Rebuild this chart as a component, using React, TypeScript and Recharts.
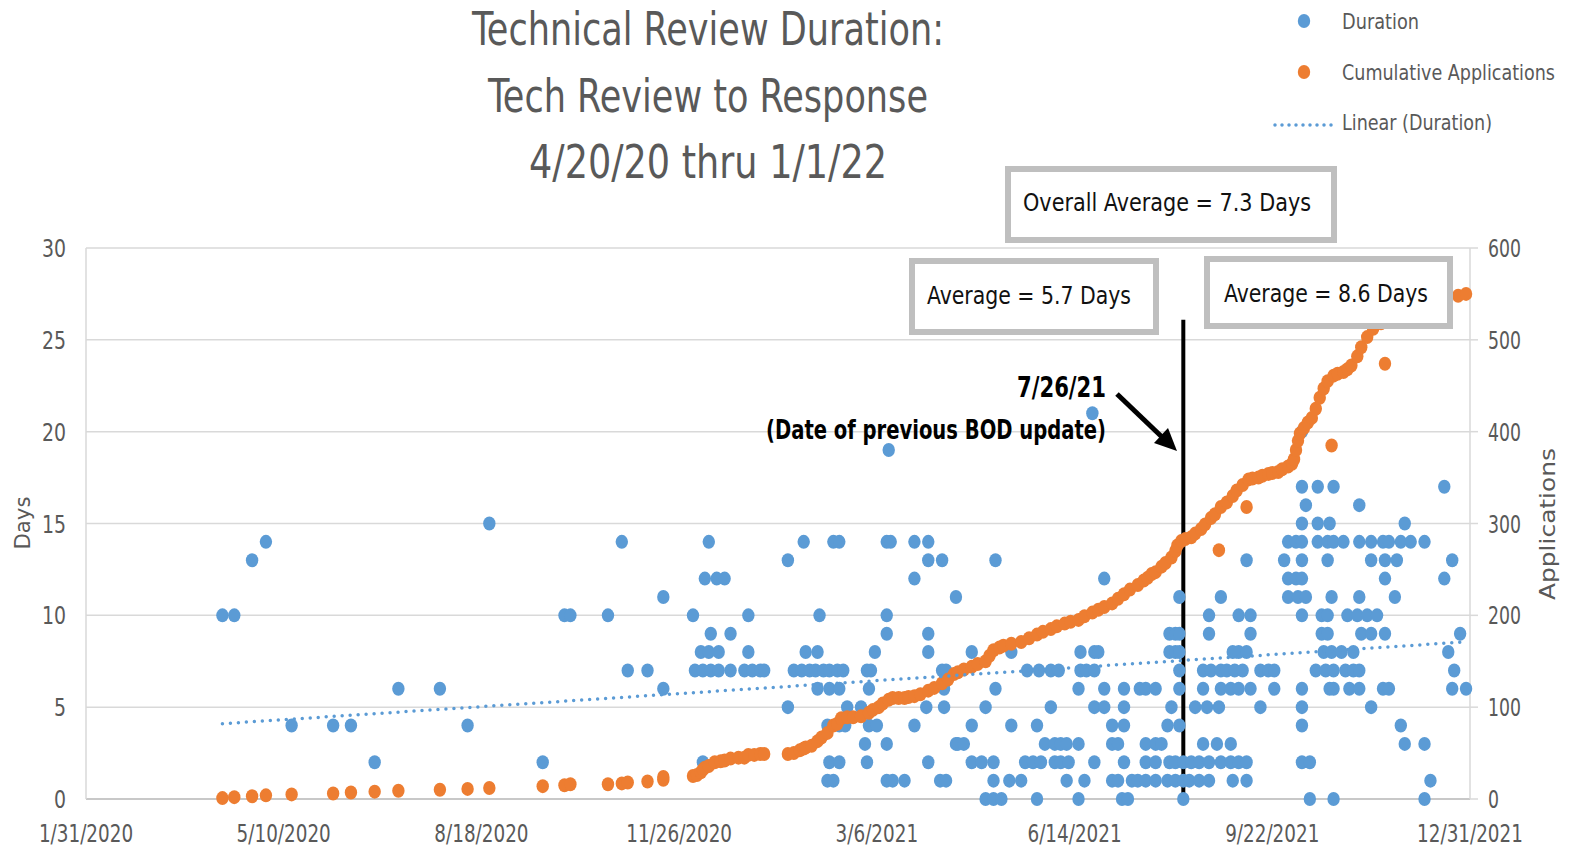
import React from 'react'
import { ScatterChart, Scatter, XAxis, YAxis, CartesianGrid, ReferenceLine } from 'recharts'

const FONT = "'Liberation Sans Narrow', 'DejaVu Sans Condensed', 'Liberation Sans', Arial, sans-serif"
const GRAY = '#595959'
const BLUE = '#5B9BD5'
const ORANGE = '#ED7D31'

// x values are days since 1/31/2020
const START = Date.UTC(2020, 0, 31)
const DAY_MS = 86400000

const dateTicks = [0, 100, 200, 300, 400, 500, 600, 700]
const daysTicks = [0, 5, 10, 15, 20, 25, 30]
const appTicks = [0, 100, 200, 300, 400, 500, 600]

// [day, duration in days]
const durationPoints: [number, number][] = [
  [69, 10], [75, 10], [84, 13], [91, 14], [104, 4], [125, 4], [134, 4], [146, 2], [158, 6], [179, 6],
  [193, 4], [204, 15], [231, 2], [242, 10], [245, 10], [264, 10], [271, 14], [274, 7], [284, 7], [292, 11],
  [292, 6], [307, 10], [315, 14], [313, 12], [319, 12], [323, 12], [316, 9], [326, 9], [311, 8], [315, 8],
  [320, 8], [308, 7], [312, 7], [316, 7], [320, 7], [326, 7], [335, 10], [335, 8], [333, 7], [337, 7],
  [341, 7], [343, 7], [312, 2],
  [355, 13], [363, 14], [378, 14], [381, 14], [371, 10], [355, 5], [364, 8], [370, 8], [358, 7], [362, 7],
  [366, 7], [369, 7], [373, 7], [376, 7], [380, 7], [383, 7], [370, 6], [376, 6], [381, 6], [375, 4],
  [381, 4], [384, 4], [376, 2], [381, 2], [375, 1], [378, 1],
  [405, 14], [407, 14], [419, 14], [426, 14], [426, 13], [433, 13], [419, 12], [440, 11], [405, 10], [405, 9],
  [426, 9], [399, 8], [426, 8], [395, 7], [397, 7], [433, 7], [435, 7], [396, 6], [434, 6], [385, 5],
  [392, 5], [425, 5], [434, 5], [396, 4], [400, 4], [419, 4], [394, 3], [405, 3], [440, 3], [395, 2],
  [426, 2], [405, 1], [408, 1], [414, 1], [432, 1], [435, 1], [406, 19],
  [509, 21], [460, 13], [515, 12], [448, 8], [468, 8], [503, 8], [510, 8], [512, 8], [476, 7], [482, 7],
  [488, 7], [492, 7], [503, 7], [506, 7], [510, 7], [460, 6], [502, 6], [515, 6], [525, 6], [533, 6],
  [455, 5], [488, 5], [510, 5], [515, 5], [525, 5], [448, 4], [468, 4], [481, 4], [519, 4], [525, 4],
  [441, 3], [444, 3], [485, 3], [490, 3], [493, 3], [496, 3], [502, 3], [519, 3], [522, 3], [448, 2],
  [453, 2], [459, 2], [475, 2], [479, 2], [483, 2], [490, 2], [493, 2], [497, 2], [510, 2], [525, 2],
  [459, 1], [467, 1], [473, 1], [496, 1], [505, 1], [519, 1], [522, 1], [529, 1], [532, 1], [455, 0],
  [459, 0], [463, 0], [481, 0], [502, 0], [524, 0], [527, 0],
  [573, 26], [615, 20], [615, 17], [617, 16], [615, 15], [608, 14], [612, 14], [615, 14], [587, 13], [606, 13],
  [615, 13], [608, 12], [612, 12], [615, 12], [553, 11], [574, 11], [608, 11], [613, 11], [617, 11], [568, 10],
  [583, 10], [589, 10], [615, 10], [548, 9], [551, 9], [553, 9], [568, 9], [589, 9], [548, 8], [551, 8],
  [553, 8], [580, 8], [583, 8], [587, 8], [553, 7], [565, 7], [569, 7], [574, 7], [577, 7], [581, 7],
  [585, 7], [594, 7], [598, 7], [601, 7], [536, 6], [541, 6], [553, 6], [565, 6], [574, 6], [579, 6],
  [583, 6], [589, 6], [601, 6], [615, 6], [549, 5], [561, 5], [567, 5], [573, 5], [594, 5], [615, 5],
  [547, 4], [553, 4], [615, 4], [536, 3], [541, 3], [544, 3], [565, 3], [572, 3], [579, 3], [536, 2],
  [541, 2], [548, 2], [551, 2], [555, 2], [559, 2], [563, 2], [568, 2], [574, 2], [579, 2], [583, 2],
  [587, 2], [615, 2], [619, 2], [536, 1], [541, 1], [547, 1], [551, 1], [555, 1], [558, 1], [563, 1],
  [568, 1], [580, 1], [587, 1], [555, 0], [619, 0],
  [623, 17], [631, 17], [687, 17], [644, 16], [623, 15], [629, 15], [667, 15], [623, 14], [628, 14], [631, 14],
  [636, 14], [644, 14], [650, 14], [656, 14], [659, 14], [665, 14], [670, 14], [677, 14], [628, 13], [650, 13],
  [657, 13], [663, 13], [691, 13], [657, 12], [687, 12], [630, 11], [644, 11], [662, 11], [625, 10], [628, 10],
  [638, 10], [643, 10], [648, 10], [653, 10], [625, 9], [628, 9], [645, 9], [650, 9], [657, 9], [695, 9],
  [626, 8], [630, 8], [635, 8], [641, 8], [689, 8], [622, 7], [627, 7], [631, 7], [637, 7], [641, 7],
  [644, 7], [692, 7], [629, 6], [631, 6], [639, 6], [644, 6], [656, 6], [659, 6], [691, 6], [698, 6],
  [650, 5], [665, 4], [667, 3], [677, 3], [680, 1], [631, 0], [677, 0],
]

// [day, cumulative applications]
const cumulativePoints: [number, number][] = [
  [69, 1], [75, 2], [84, 3], [91, 4], [104, 5], [125, 6], [134, 7], [146, 8], [158, 9], [179, 10],
  [193, 11], [204, 12], [231, 14], [242, 15], [245, 16], [264, 16], [271, 17], [274, 18], [284, 19], [292, 21],
  [292, 24], [307, 25], [309, 26], [311, 29], [312, 32], [313, 34], [315, 36], [318, 40], [321, 41], [323, 42],
  [326, 44], [330, 45], [333, 45], [335, 48], [338, 48], [341, 49], [343, 49], [355, 49], [358, 50], [361, 53],
  [363, 55], [364, 56], [367, 58], [370, 63], [372, 67], [375, 72], [378, 80], [380, 82], [382, 88], [385, 89],
  [388, 89], [392, 90], [396, 94], [398, 97], [401, 100], [403, 104], [406, 108], [408, 110], [411, 110], [414, 110],
  [416, 111], [419, 112], [422, 114], [426, 118], [429, 121], [433, 126], [436, 130], [439, 136], [441, 138], [444, 141],
  [448, 144], [451, 147], [455, 150], [457, 156], [459, 162], [462, 165], [464, 167], [468, 169], [473, 171], [477, 175],
  [481, 179], [484, 182], [488, 185], [491, 188], [495, 191], [498, 193], [502, 195], [505, 199], [509, 203], [512, 206],
  [515, 209], [519, 213], [522, 218], [525, 223], [528, 228], [532, 233], [535, 238], [537, 241], [539, 245], [541, 247],
  [544, 253], [546, 257], [549, 263], [551, 270], [552, 276], [554, 281], [556, 283], [559, 285], [561, 289], [564, 294],
  [566, 299], [569, 306], [571, 310], [574, 318], [577, 323], [580, 330], [582, 336], [585, 342], [588, 348], [590, 349],
  [593, 350], [595, 352], [598, 354], [600, 355], [603, 356], [605, 359], [608, 362], [610, 365], [611, 370], [612, 380],
  [613, 390], [614, 398], [616, 404], [618, 410], [620, 415], [622, 425], [624, 437], [626, 447], [628, 455], [631, 461],
  [633, 463], [636, 465], [638, 468], [640, 472], [643, 482], [645, 492], [648, 503], [651, 512], [655, 518], [658, 523],
  [662, 528], [668, 533], [675, 538], [682, 542], [688, 545], [694, 548], [698, 550],
  [573, 271], [587, 318], [630, 385], [657, 474],
]

// Linear (Duration) trendline ends
const trendPoints: [number, number][] = [[69, 4.1], [697, 8.55]]

// vertical marker drawn in the original (labelled 7/26/21)
const markerDay = 555
const markerTop = 26.1

const toXY = (arr: [number, number][]) => arr.map(([x, y]) => ({ x, y }))

const fmtDate = (d: number) => {
  const dt = new Date(START + d * DAY_MS)
  return `${dt.getUTCMonth() + 1}/${dt.getUTCDate()}/${dt.getUTCFullYear()}`
}

const numLen = (s: string, digit: number, other: number) =>
  s.split('').reduce((w, c) => w + (c >= '0' && c <= '9' ? digit : other), 0)

const XTick = (p: any) => {
  const label = fmtDate(p.payload.value)
  return (
    <text x={p.x} y={p.y + 43} textAnchor="middle" fontFamily={FONT} fontSize={24} fill={GRAY}
      textLength={numLen(label, 11.6, 6.5)} lengthAdjust="spacingAndGlyphs">{label}</text>
  )
}

const LeftTick = (p: any) => {
  const label = String(p.payload.value)
  return (
    <text x={p.x} y={p.y + 9} textAnchor="end" fontFamily={FONT} fontSize={25} fill={GRAY}
      textLength={numLen(label, 12, 12)} lengthAdjust="spacingAndGlyphs">{label}</text>
  )
}

const RightTick = (p: any) => {
  const label = String(p.payload.value)
  return (
    <text x={p.x} y={p.y + 9} textAnchor="start" fontFamily={FONT} fontSize={25} fill={GRAY}
      textLength={numLen(label, 11, 11)} lengthAdjust="spacingAndGlyphs">{label}</text>
  )
}

const dot = (color: string) => (p: any) => <ellipse cx={p.cx} cy={p.cy} rx={6.2} ry={7} fill={color} />
const noDot = () => <g />

const T = ({ x, y, len, size, children, color = GRAY, bold = false, anchor = 'start' }: any) => (
  <text x={x} y={y} fontFamily={FONT} fontSize={size} fill={color} fontWeight={bold ? 700 : 400}
    textAnchor={anchor} textLength={len} lengthAdjust="spacingAndGlyphs">{children}</text>
)

const Box = ({ x, y, w, h }: any) => (
  <rect x={x} y={y} width={w} height={h} fill="#ffffff" stroke="#bfbfbf" strokeWidth={6} />
)

export default function App() {
  return (
    <div style={{ position: 'absolute', left: 0, top: 0, width: 1572, height: 849, background: '#fff' }}>
      <ScatterChart width={1572} height={849} margin={{ top: 248, right: 0, bottom: 0, left: 0 }}>
        <CartesianGrid yAxisId="left" horizontal vertical={false} stroke="#d9d9d9" strokeWidth={1.5} />
        <XAxis
          dataKey="x"
          type="number"
          domain={[0, 700]}
          ticks={dateTicks}
          interval={0}
          height={50}
          axisLine={{ stroke: '#bfbfbf', strokeWidth: 1.5 }}
          tickLine={false}
          tickSize={0}
          tickMargin={0}
          tick={<XTick />}
        />
        <YAxis
          yAxisId="left"
          dataKey="y"
          type="number"
          domain={[0, 30]}
          ticks={daysTicks}
          interval={0}
          width={86}
          axisLine={{ stroke: '#d9d9d9', strokeWidth: 1.5 }}
          tickLine={false}
          tickSize={0}
          tickMargin={20}
          tick={<LeftTick />}
        />
        <YAxis
          yAxisId="right"
          orientation="right"
          dataKey="y"
          type="number"
          domain={[0, 600]}
          ticks={appTicks}
          interval={0}
          width={102}
          axisLine={{ stroke: '#d9d9d9', strokeWidth: 1.5 }}
          tickLine={{ stroke: '#d9d9d9', strokeWidth: 1.5 }}
          tickSize={8}
          tickMargin={10}
          tick={<RightTick />}
        />
        <Scatter name="Duration" yAxisId="left" data={toXY(durationPoints)} fill={BLUE}
          shape={dot(BLUE)} isAnimationActive={false} />
        <Scatter name="Cumulative Applications" yAxisId="right" data={toXY(cumulativePoints)} fill={ORANGE}
          shape={dot(ORANGE)} isAnimationActive={false} />
        <Scatter name="Linear (Duration)" yAxisId="left" data={toXY(trendPoints)} fill={BLUE}
          line={{ stroke: BLUE, strokeWidth: 3.5, strokeDasharray: '0 8', strokeLinecap: 'round' }}
          shape={noDot} isAnimationActive={false} />
        <ReferenceLine yAxisId="left" segment={[{ x: markerDay, y: 0 }, { x: markerDay, y: markerTop }]}
          stroke="#000" strokeWidth={4} />
      </ScatterChart>

      <svg width={1572} height={849} style={{ position: 'absolute', left: 0, top: 0, pointerEvents: 'none' }}>
        {/* title */}
        <T x={472} y={45} len={472} size={47}>Technical Review Duration:</T>
        <T x={488} y={112} len={440} size={47}>Tech Review to Response</T>
        <T x={529} y={178} len={358} size={47}>4/20/20 thru 1/1/22</T>

        {/* legend */}
        <ellipse cx={1304} cy={21} rx={6.2} ry={7} fill={BLUE} />
        <T x={1342} y={29} len={77} size={21}>Duration</T>
        <ellipse cx={1304} cy={72} rx={6.2} ry={7} fill={ORANGE} />
        <T x={1342} y={80} len={213} size={21}>Cumulative Applications</T>
        <line x1={1275} y1={125} x2={1333} y2={125} stroke={BLUE} strokeWidth={3.5}
          strokeDasharray="0 7" strokeLinecap="round" />
        <T x={1342} y={130} len={150} size={21}>Linear (Duration)</T>

        {/* axis titles */}
        <g transform="translate(30,523) rotate(-90)">
          <T x={0} y={0} len={53} size={22} anchor="middle">Days</T>
        </g>
        <g transform="translate(1555,524) rotate(-90)">
          <T x={0} y={0} len={152} size={22} anchor="middle">Applications</T>
        </g>

        {/* average boxes */}
        <Box x={1008} y={169} w={326} h={71} />
        <T x={1023} y={211} len={288} size={25} color="#111">Overall Average = 7.3 Days</T>
        <Box x={912} y={261} w={244} h={71} />
        <T x={927} y={304} len={204} size={25} color="#111">Average = 5.7 Days</T>
        <Box x={1207} y={259} w={243} h={67} />
        <T x={1224} y={302} len={204} size={25} color="#111">Average = 8.6 Days</T>

        {/* marker annotation */}
        <T x={1017} y={397} len={89} size={29} color="#000" bold>7/26/21</T>
        <T x={766} y={439} len={340} size={27} color="#000" bold>(Date of previous BOD update)</T>
        <line x1={1117} y1={394} x2={1162} y2={437} stroke="#000" strokeWidth={5} />
        <polygon points="1177,451 1154,443 1168,428" fill="#000" />
      </svg>
    </div>
  )
}
